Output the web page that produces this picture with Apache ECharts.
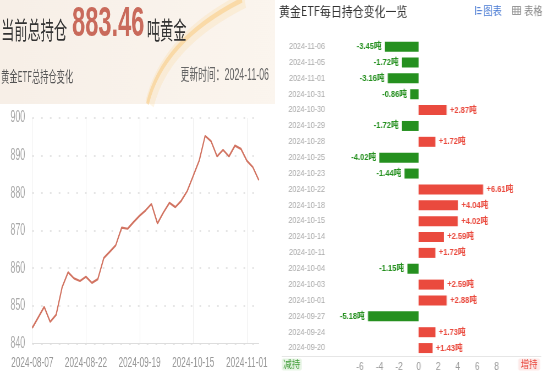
<!DOCTYPE html>
<html><head><meta charset="utf-8">
<script src="https://cdn.jsdelivr.net/npm/echarts/dist/echarts.min.js"></script>
<style>
html,body{margin:0;padding:0;width:549px;height:374px;overflow:hidden;background:#fff;}
#left{position:absolute;left:0;top:0;width:500px;height:374px;transform:scaleX(0.55);transform-origin:0 0;}
#right{position:absolute;left:275px;top:0;width:326px;height:374px;transform:scaleX(0.84);transform-origin:0 0;}
</style></head>
<body>
<div id="left"></div>
<div id="right"></div>
<script>
// ---- data: total holdings (tonnes) ----
const lineDates = ['2024-08-07','2024-08-08','2024-08-09','2024-08-12','2024-08-13','2024-08-14','2024-08-15','2024-08-16','2024-08-20','2024-08-22',
  '2024-08-23','2024-08-27','2024-08-29','2024-09-03','2024-09-05','2024-09-09','2024-09-11','2024-09-17','2024-09-19','2024-09-20',
  '2024-09-24','2024-09-27','2024-10-01','2024-10-03','2024-10-04','2024-10-11','2024-10-14','2024-10-15','2024-10-18','2024-10-22',
  '2024-10-23','2024-10-25','2024-10-28','2024-10-29','2024-10-30','2024-10-31','2024-11-01','2024-11-05','2024-11-06'];
const lineValues = [844.1,846.9,849.7,845.7,847.6,854.9,858.9,857.3,856.6,857.7,
  856.1,857.1,862.7,864.4,866.1,870.8,870.5,872.3,873.96,875.39,
  877.12,871.94,874.82,877.41,876.26,877.98,880.57,884.59,888.63,895.24,
  893.80,889.78,891.50,889.78,892.65,891.79,888.63,886.91,883.46];
const yTicks = [840, 850, 860, 870, 880, 890, 900];

// ---- data: daily change (tonnes) ----
const barDates = ['2024-11-06','2024-11-05','2024-11-01','2024-10-31','2024-10-30','2024-10-29','2024-10-28','2024-10-25','2024-10-23','2024-10-22',
  '2024-10-18','2024-10-15','2024-10-14','2024-10-11','2024-10-04','2024-10-03','2024-10-01','2024-09-27','2024-09-24','2024-09-20'];
const barValues = [-3.45,-1.72,-3.16,-0.86,2.87,-1.72,1.72,-4.02,-1.44,6.61,
  4.04,4.02,2.59,1.72,-1.15,2.59,2.88,-5.18,1.73,1.43];
const xTicks = [-6, -4, -2, 0, 2, 4, 6, 8];

const FONT = "'Liberation Sans', 'Noto Sans CJK SC', sans-serif";
const GREEN = '#25901f', RED = '#ea4a3e';

// ---------------- left panel ----------------
const left = echarts.init(document.getElementById('left'));
left.setOption({
  animation: false,
  backgroundColor: '#fff',
  textStyle: { fontFamily: FONT },
  graphic: [
    { type: 'rect', z: -10, shape: { x: 0, y: 0, width: 500, height: 104 },
      style: { fill: { type: 'linear', x: 0, y: 0, x2: 1, y2: 0, colorStops: [{ offset: 0, color: '#f7efe7' }, { offset: 1, color: '#fbf5ee' }] } } },
    { type: 'bezierCurve', z: -9, shape: { x1: 445, y1: 0, cpx1: 300, cpy1: 40, x2: 272, y2: 104 },
      style: { stroke: 'rgba(252,214,150,0.25)', lineWidth: 16, fill: null } },
    { type: 'bezierCurve', z: -9, shape: { x1: 440, y1: 0, cpx1: 296, cpy1: 40, x2: 268, y2: 104 },
      style: { stroke: 'rgba(250,200,120,0.5)', lineWidth: 5, fill: null } },
    { type: 'text', x: 2, y: 30, style: { text: '当前总持仓', font: "24px 'Noto Sans CJK SC'", fill: '#333', verticalAlign: 'middle' } },
    { type: 'text', x: 131, y: 24, style: { text: '883.46', font: "bold 43px 'Liberation Sans'", fill: '#c96a5b', verticalAlign: 'middle' } },
    { type: 'text', x: 267, y: 30, style: { text: '吨黄金', font: "24px 'Noto Sans CJK SC'", fill: '#333', verticalAlign: 'middle' } },
    { type: 'text', x: 2, y: 76, style: { text: '黄金ETF总持仓变化', font: "15px 'Noto Sans CJK SC'", fill: '#555', verticalAlign: 'middle' } },
    { type: 'text', x: 489, y: 76, style: { text: '更新时间：2024-11-06', font: "16px 'Liberation Sans','Noto Sans CJK SC'", fill: '#666', align: 'right', verticalAlign: 'middle' } }
  ],
  grid: { left: 58.7, right: 29.5, top: 118, bottom: 30.7 },
  xAxis: {
    type: 'category', data: lineDates, boundaryGap: false,
    axisLine: { lineStyle: { color: '#ddd' } },
    axisTick: { show: false },
    axisLabel: { interval: 8, color: '#999', fontSize: 15, margin: 12 },
    splitLine: { show: true, interval: 8, lineStyle: { color: '#eee' } }
  },
  yAxis: {
    type: 'value', min: yTicks[0], max: yTicks[yTicks.length - 1], interval: 10,
    axisLine: { show: false }, axisTick: { show: false },
    axisLabel: { color: '#aaa', fontSize: 16, margin: 13 },
    splitLine: { lineStyle: { color: '#ddd', type: [3, 13], width: 1.5 } }
  },
  series: [{
    type: 'line', data: lineValues, symbol: 'none',
    lineStyle: { color: '#d27462', width: 2.2 }, itemStyle: { color: '#d27462' }
  }]
});

// ---------------- right panel ----------------
const right = echarts.init(document.getElementById('right'));
right.setOption({
  animation: false,
  backgroundColor: '#fff',
  textStyle: { fontFamily: FONT },
  graphic: [
    { type: 'text', x: 4.8, y: 11, style: { text: '黄金ETF每日持仓变化一览', font: "13px 'Noto Sans CJK SC'", fill: '#333', verticalAlign: 'middle' } },
    // chart icon
    { type: 'rect', shape: { x: 238, y: 6, width: 1.2, height: 9 }, style: { fill: '#5b87d8' } },
    { type: 'rect', shape: { x: 240.5, y: 7, width: 4, height: 1.2 }, style: { fill: '#5b87d8' } },
    { type: 'rect', shape: { x: 240.5, y: 10, width: 6, height: 1.2 }, style: { fill: '#5b87d8' } },
    { type: 'rect', shape: { x: 240.5, y: 13, width: 5, height: 1.2 }, style: { fill: '#5b87d8' } },
    { type: 'text', x: 248, y: 10.5, style: { text: '图表', font: "11px 'Noto Sans CJK SC'", fill: '#4a7bd4', verticalAlign: 'middle' } },
    // table icon
    { type: 'rect', shape: { x: 282.5, y: 6.5, width: 10, height: 8 }, style: { fill: null, stroke: '#999', lineWidth: 1 } },
    { type: 'line', shape: { x1: 282.5, y1: 9.2, x2: 292.5, y2: 9.2 }, style: { stroke: '#999', lineWidth: 1 } },
    { type: 'line', shape: { x1: 282.5, y1: 11.8, x2: 292.5, y2: 11.8 }, style: { stroke: '#999', lineWidth: 1 } },
    { type: 'line', shape: { x1: 285.8, y1: 6.5, x2: 285.8, y2: 14.5 }, style: { stroke: '#999', lineWidth: 1 } },
    { type: 'line', shape: { x1: 289.2, y1: 6.5, x2: 289.2, y2: 14.5 }, style: { stroke: '#999', lineWidth: 1 } },
    { type: 'text', x: 296.4, y: 10.5, style: { text: '表格', font: "11px 'Noto Sans CJK SC'", fill: '#888', verticalAlign: 'middle' } },
    // bottom axis line
    { type: 'line', shape: { x1: 8, y1: 356.5, x2: 317, y2: 356.5 }, style: { stroke: '#e6e6e6', lineWidth: 1 } },
    // legends
    { type: 'rect', shape: { x: 8, y: 358.5, width: 23.8, height: 12, r: 2 }, style: { fill: '#e8f5e6' } },
    { type: 'text', x: 19.9, y: 364.5, style: { text: '减持', font: "10px 'Noto Sans CJK SC'", fill: '#3d9b35', align: 'center', verticalAlign: 'middle' } },
    { type: 'rect', shape: { x: 289.6, y: 358.5, width: 25.8, height: 12, r: 2 }, style: { fill: '#fde9e8' } },
    { type: 'text', x: 302.5, y: 364.5, style: { text: '增持', font: "10px 'Noto Sans CJK SC'", fill: '#e8463c', align: 'center', verticalAlign: 'middle' } }
  ],
  grid: { left: 101.2, right: 62.1, top: 38.7, bottom: 18 },
  xAxis: {
    type: 'value', min: xTicks[0], max: xTicks[xTicks.length - 1], interval: 2,
    axisLine: { show: false }, axisTick: { show: false }, splitLine: { show: false },
    axisLabel: { color: '#999', fontSize: 10, margin: 6 }
  },
  yAxis: {
    type: 'category', data: barDates, inverse: true,
    axisLine: { show: false }, axisTick: { show: false },
    axisLabel: { color: '#aaa', fontSize: 8.5, margin: 41.7 }
  },
  series: [{
    type: 'bar', barWidth: 10,
    data: barValues.map(v => ({
      value: v,
      itemStyle: { color: v < 0 ? GREEN : RED },
      label: { position: v < 0 ? 'left' : 'right', color: v < 0 ? GREEN : RED }
    })),
    label: {
      show: true, fontWeight: 'bold', fontSize: 9, distance: 4,
      formatter: p => (p.value > 0 ? '+' : '') + p.value.toFixed(2) + '吨'
    }
  }]
});
</script>
</body></html>
